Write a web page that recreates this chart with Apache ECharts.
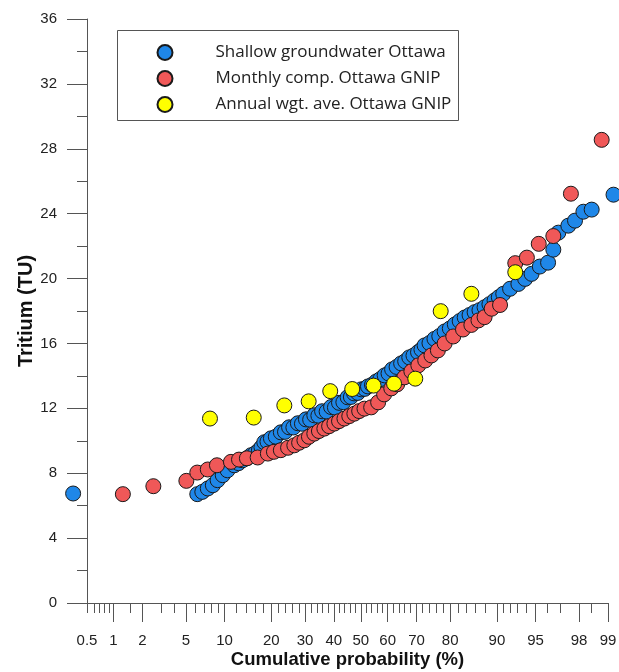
<!DOCTYPE html>
<html><head><meta charset="utf-8">
<script src="https://cdn.jsdelivr.net/npm/echarts@6/dist/echarts.min.js"></script>
<style>html,body{margin:0;padding:0;background:#fff}#c{width:619px;height:672px}</style>
</head><body><div id="c"></div>
<script>
const seriesNames = ['Shallow groundwater Ottawa', 'Monthly comp. Ottawa GNIP', 'Annual wgt. ave. Ottawa GNIP'];

const blueProb = [0.34, 6.2, 6.8, 7.5, 8.2, 8.9, 9.7, 10.5, 11.7, 12.5, 13.3, 14.2, 15.1, 16.0, 16.9, 17.5, 18.2, 19.0, 19.9, 21.2, 22.6, 23.8, 25.0, 26.3, 27.7, 29.0, 30.3, 31.7, 33.1, 34.5, 35.8, 37.4, 39.0, 40.4, 41.9, 43.5, 45.1, 46.3, 47.5, 48.9, 50.2, 51.5, 52.7, 54.2, 55.8, 57.3, 58.9, 60.3, 61.6, 63.2, 64.8, 66.2, 67.6, 69.0, 70.5, 71.6, 72.6, 74.1, 75.6, 77.0, 78.5, 79.9, 81.2, 82.4, 83.6, 84.7, 85.8, 86.8, 87.8, 88.7, 89.6, 90.3, 91.0, 92.0, 93.1, 93.9, 94.6, 95.4, 96.1, 96.5, 96.85, 97.46, 97.81, 98.19, 98.51, 99.13];
const blueTU = [6.75, 6.71, 6.85, 7.06, 7.26, 7.57, 7.88, 8.18, 8.49, 8.62, 8.80, 8.92, 9.11, 9.22, 9.42, 9.60, 9.91, 9.95, 10.15, 10.25, 10.52, 10.55, 10.83, 10.82, 11.08, 11.05, 11.32, 11.30, 11.57, 11.55, 11.82, 11.80, 12.08, 12.05, 12.34, 12.38, 12.68, 12.70, 12.92, 12.95, 13.17, 13.20, 13.35, 13.45, 13.66, 13.80, 14.03, 14.15, 14.40, 14.55, 14.77, 14.90, 15.14, 15.25, 15.46, 15.62, 15.88, 16.02, 16.28, 16.45, 16.74, 16.92, 17.17, 17.38, 17.60, 17.75, 17.93, 18.05, 18.23, 18.42, 18.65, 18.85, 19.06, 19.37, 19.67, 19.98, 20.29, 20.74, 20.98, 21.78, 22.83, 23.26, 23.57, 24.12, 24.25, 25.17];

const redProb = [1.26, 2.55, 5.04, 6.2, 7.5, 8.8, 11.1, 12.6, 14.2, 16.6, 19.1, 20.7, 22.6, 24.7, 26.6, 28.1, 29.8, 31.3, 33.1, 34.7, 36.6, 38.3, 40.2, 41.9, 43.9, 45.7, 47.6, 49.4, 51.4, 53.9, 56.5, 58.7, 61.3, 63.4, 65.9, 68.3, 70.6, 72.8, 74.7, 76.6, 78.5, 80.8, 83.2, 85.1, 86.6, 87.8, 89.1, 90.5, 92.7, 94.1, 95.3, 96.5, 97.6, 98.83];
const redTU = [6.71, 7.20, 7.53, 8.04, 8.23, 8.49, 8.70, 8.84, 8.92, 8.97, 9.21, 9.32, 9.42, 9.57, 9.72, 9.88, 10.03, 10.25, 10.44, 10.60, 10.75, 10.90, 11.06, 11.21, 11.37, 11.52, 11.67, 11.83, 11.98, 12.06, 12.37, 12.86, 13.23, 13.48, 13.91, 14.28, 14.65, 14.95, 15.26, 15.57, 16.0, 16.43, 16.86, 17.14, 17.42, 17.62, 18.14, 18.37, 20.95, 21.29, 22.14, 22.62, 25.23, 28.55];

const yellowProb = [7.8, 15.7, 23.6, 31.2, 38.7, 46.8, 54.8, 62.3, 69.6, 77.4, 85.1, 92.7];
const yellowTU = [11.37, 11.43, 12.18, 12.43, 13.06, 13.19, 13.40, 13.52, 13.83, 17.99, 19.06, 20.39];

const labelProbs = [0.5, 1, 2, 5, 10, 20, 30, 40, 50, 60, 70, 80, 90, 95, 98, 99];
const majorTickProbs = [1, 2, 5, 10, 20, 30, 40, 50, 60, 70, 80, 90, 95, 98, 99];
const minorTickProbs = [0.5, 0.6, 0.7, 0.8, 0.9, 1.5, 3, 4, 6, 7, 8, 9, 12, 14, 16, 18, 22, 24, 26, 28, 32, 34, 36, 38, 42, 44, 46, 48, 52, 54, 56, 58, 62, 64, 66, 68, 72, 74, 76, 78, 82, 84, 86, 88, 91, 92, 93, 94, 96, 97, 98.5];
const probMin = 0.5, probMax = 99;
const yMin = 0, yMax = 36, yStep = 4;

// inverse standard normal CDF (probability scale transform)
function probit(pct) {
  const p = pct / 100;
  const a = [-3.969683028665376e+01, 2.209460984245205e+02, -2.759285104469687e+02, 1.383577518672690e+02, -3.066479806614716e+01, 2.506628277459239e+00];
  const b = [-5.447609879822406e+01, 1.615858368580409e+02, -1.556989798598866e+02, 6.680131188771972e+01, -1.328068155288572e+01];
  const c = [-7.784894002430293e-03, -3.223964580411365e-01, -2.400758277161838e+00, -2.549732539343734e+00, 4.374664141464968e+00, 2.938163982698783e+00];
  const d = [7.784695709041462e-03, 3.224671290700398e-01, 2.445134137142996e+00, 3.754408661907416e+00];
  const pl = 0.02425, ph = 1 - pl; let q, r;
  if (p < pl) { q = Math.sqrt(-2 * Math.log(p)); return (((((c[0]*q+c[1])*q+c[2])*q+c[3])*q+c[4])*q+c[5]) / ((((d[0]*q+d[1])*q+d[2])*q+d[3])*q+1); }
  if (p <= ph) { q = p - 0.5; r = q*q; return (((((a[0]*r+a[1])*r+a[2])*r+a[3])*r+a[4])*r+a[5])*q / (((((b[0]*r+b[1])*r+b[2])*r+b[3])*r+b[4])*r+1); }
  q = Math.sqrt(-2 * Math.log(1 - p)); return -(((((c[0]*q+c[1])*q+c[2])*q+c[3])*q+c[4])*q+c[5]) / ((((d[0]*q+d[1])*q+d[2])*q+d[3])*q+1);
}

function pts(probs, vals) { return probs.map((p, i) => [probit(p), vals[i]]); }

const axisColor = '#555';
const labelFont = 'Liberation Sans';
const xMin = probit(probMin), xMax = probit(probMax);

function fmt(v) {
  for (const p of labelProbs) { if (Math.abs(probit(p) - v) < 1e-6) return String(p); }
  return '';
}

const baseSeries = { type: 'scatter', symbol: 'circle', symbolSize: 15, clip: false, xAxisIndex: 0, yAxisIndex: 0, emphasis: { disabled: true } };

const chart = echarts.init(document.getElementById('c'), null, { renderer: 'canvas' });
chart.setOption({
  animation: false,
  backgroundColor: '#fff',
  grid: { left: 87, right: 11, top: 19, bottom: 69, containLabel: false, outerBoundsMode: 'none' },
  xAxis: [
    {
      type: 'value', min: xMin, max: xMax, position: 'bottom',
      name: 'Cumulative probability (%)', nameLocation: 'middle', nameGap: 47, nameMoveOverlap: false,
      nameTextStyle: { fontFamily: labelFont, fontWeight: 'bold', fontSize: 18.5, color: '#111' },
      axisLine: { show: true, onZero: false, lineStyle: { color: axisColor, width: 1 } },
      axisTick: { show: true, inside: false, length: 19, customValues: majorTickProbs.map(probit), lineStyle: { color: axisColor } },
      axisLabel: { show: true, customValues: labelProbs.map(probit), formatter: fmt, margin: 30, fontFamily: labelFont, fontSize: 15, color: '#222' },
      splitLine: { show: false }
    },
    {
      type: 'value', min: xMin, max: xMax, position: 'bottom', gridIndex: 0,
      axisLine: { show: false, onZero: false },
      axisTick: { show: true, inside: false, length: 10, customValues: minorTickProbs.map(probit), lineStyle: { color: axisColor } },
      axisLabel: { show: false },
      splitLine: { show: false }
    }
  ],
  yAxis: {
    type: 'value', min: yMin, max: yMax, interval: yStep,
    name: 'Tritium (TU)', nameLocation: 'middle', nameGap: 51, nameMoveOverlap: false,
    nameTextStyle: { fontFamily: labelFont, fontWeight: 'bold', fontSize: 20, color: '#111' },
    axisLine: { show: true, onZero: false, lineStyle: { color: axisColor, width: 1 } },
    axisTick: { show: true, length: 20, lineStyle: { color: axisColor } },
    minorTick: { show: true, splitNumber: 2, length: 10, lineStyle: { color: axisColor } },
    axisLabel: { margin: 30, fontFamily: labelFont, fontSize: 15, color: '#222' },
    splitLine: { show: false }, minorSplitLine: { show: false }
  },
  legend: {
    show: true, orient: 'vertical', left: 156.5, top: 44, padding: 0,
    itemWidth: 15, itemHeight: 15, itemGap: 9, icon: 'circle',
    data: seriesNames,
    textStyle: { fontFamily: 'Open Sans', fontSize: 17, color: '#222', lineHeight: 15, padding: [0, 0, 0, 38] },
    selectedMode: false
  },
  graphic: [{
    type: 'rect', shape: { x: 117.5, y: 30.5, width: 341, height: 90 },
    style: { fill: 'none', stroke: '#555', lineWidth: 1 }, z: 100, silent: true
  }],
  series: [
    Object.assign({}, baseSeries, { name: seriesNames[0], data: pts(blueProb, blueTU), z: 2,
      itemStyle: { color: '#1f87e8', borderColor: '#1a1a1a', borderWidth: 1, opacity: 1 } }),
    Object.assign({}, baseSeries, { name: seriesNames[1], data: pts(redProb, redTU), z: 3,
      itemStyle: { color: '#f05858', borderColor: '#1a1a1a', borderWidth: 1, opacity: 1 } }),
    Object.assign({}, baseSeries, { name: seriesNames[2], data: pts(yellowProb, yellowTU), z: 4,
      itemStyle: { color: '#ffff00', borderColor: '#1a1a1a', borderWidth: 1, opacity: 1 } })
  ]
});
</script></body></html>
